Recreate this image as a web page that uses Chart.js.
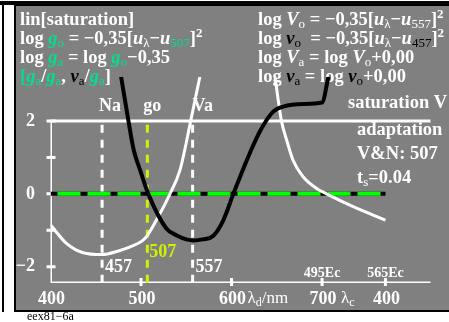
<!DOCTYPE html>
<html>
<head>
<meta charset="utf-8">
<script src="https://cdn.jsdelivr.net/npm/chart.js@4"></script>
<style>
  body { margin: 0; background: #fff; }
  canvas { display: block; }
</style>
</head>
<body>
<canvas id="c" width="449" height="322"></canvas>
<script>
// curves: wavelength (nm) and log value
const whiteLeftNm  = [400, 418, 436, 457, 475, 488, 502, 507, 517, 532, 543, 555, 565];
const whiteLeftVal = [-0.85, -1.37, -1.62, -1.67, -1.57, -1.46, -1.28, -1.14, -0.72, 0, 0.65, 2.02, 3.22];

const blackNm  = [478, 486, 492, 499, 508, 528, 540, 550, 558, 568, 580, 591, 602, 620, 632, 646, 657, 680, 700, 707];
const blackVal = [3.22, 2.02, 1.2, 0.65, 0, -0.95, -1.15, -1.25, -1.28, -1.25, -1.15, -0.72, 0, 1.11, 1.75, 2.26, 2.40, 2.47, 2.51, 3.22];

const whiteRightNm  = [648, 655, 661, 668, 679, 694, 705, 735, 770];
const whiteRightVal = [3.22, 2.02, 1.47, 0.92, 0.47, 0.15, 0, -0.36, -0.72];

// marks and axes
const markNm = [457, 507, 557];
const markTop = ['Na', 'go', 'Va'];
const xTicks = [400, 500, 600, 700, 770];
const xTickLabels = ['400', '500', '600', '700', '400'];
const yTicks = [-2, -1, 0, 1, 2];
const yTickLabels = ['\u22122', '', '0', '', '2'];
const ecNm = [700, 770];
const ecLabels = ['495Ec', '565Ec'];
const zeroLineEnd = 770;
const xMin = 400, xMax = 820, yMin = -2.45, yMax = 3.22, yTop = 2;

const W = '#ffffff', G = '#00e08c', K = '#000000', Y = '#d2f000', GRAY = '#808080';
const FONT = '"Liberation Serif", "Times New Roman", serif';

function pts(xs, ys) { return xs.map((x, i) => ({ x: x, y: ys[i] })); }

// draw a line of mixed text: [text, colour, kind]
function rich(ctx, x, y, parts, size) {
    parts.forEach(p => {
        const t = p[0], col = p[1], kind = p[2] || '';
        let font = 'bold ' + size + 'px ' + FONT, dy = 0;
        if (kind === 'i') font = 'italic bold ' + size + 'px ' + FONT;
        if (kind === 'sub') { font = Math.round(size * 0.72) + 'px ' + FONT; dy = size * 0.18; }
        if (kind === 'sup') { font = 'bold ' + Math.round(size * 0.72) + 'px ' + FONT; dy = -size * 0.4; }
        ctx.font = font;
        ctx.fillStyle = col;
        ctx.fillText(t, x, y + dy);
        x += ctx.measureText(t).width;
    });
}

const frame = {
    id: 'frame',
    beforeDraw(chart) {
        const ctx = chart.ctx;
        ctx.save();
        ctx.fillStyle = '#fff';
        ctx.fillRect(0, 0, 449, 322);
        ctx.fillStyle = K;
        ctx.fillRect(0, 1, 449, 4);
        ctx.fillRect(2, 1, 2, 311);
        ctx.fillRect(14, 1, 435, 311);
        ctx.fillStyle = GRAY;
        ctx.fillRect(16, 6, 433, 304);
        ctx.font = '12px ' + FONT;
        ctx.fillStyle = K;
        ctx.textBaseline = 'alphabetic';
        ctx.fillText('eex81\u22126a', 27, 320);
        ctx.restore();
    },
    beforeDatasetsDraw(chart) {
        const ctx = chart.ctx, x = chart.scales.x, y = chart.scales.y;
        ctx.save();
        ctx.textBaseline = 'alphabetic';
        ctx.textAlign = 'left';
        const s = 18.5;
        rich(ctx, 20, 25, [['lin[saturation]', W]], s);
        rich(ctx, 20, 44, [['log ', W], ['g', G, 'i'], ['o', G, 'sub'], [' = \u22120,35[', W], ['u', W, 'i'], ['\u03bb', W, 'sub'],
            ['\u2212', W], ['u', W, 'i'], ['507', G, 'sub'], [']', W], ['2', W, 'sup']], s);
        rich(ctx, 20, 63, [['log ', W], ['g', G, 'i'], ['a', G, 'sub'], [' = log ', W], ['g', G, 'i'], ['o', G, 'sub'], ['\u22120,35', W]], s);
        rich(ctx, 20, 82, [['[', G], ['g', G, 'i'], ['a', G, 'sub'], ['/', W], ['g', G, 'i'], ['a', G, 'sub'], [', ', W],
            ['\u03bd', K, 'i'], ['a', K, 'sub'], ['/', W], ['g', G, 'i'], ['a', G, 'sub'], [']', W]], s);

        rich(ctx, 258, 25, [['log ', W], ['V', W, 'i'], ['o', W, 'sub'], [' = \u22120,35[', W], ['u', W, 'i'], ['\u03bb', W, 'sub'],
            ['\u2212', W], ['u', W, 'i'], ['557', W, 'sub'], [']', W], ['2', W, 'sup']], s);
        rich(ctx, 258, 44, [['log ', W], ['\u03bd', K, 'i'], ['o', K, 'sub'], ['  = \u22120,35[', W], ['u', W, 'i'], ['\u03bb', W, 'sub'],
            ['\u2212', W], ['u', W, 'i'], ['457', K, 'sub'], [']', W], ['2', W, 'sup']], s);
        rich(ctx, 258, 63, [['log ', W], ['V', W, 'i'], ['a', W, 'sub'], [' = log ', W], ['V', W, 'i'], ['o', W, 'sub'], ['+0,00', W]], s);
        rich(ctx, 258, 82, [['log ', W], ['\u03bd', K, 'i'], ['a', K, 'sub'], [' = log ', W], ['\u03bd', K, 'i'], ['o', K, 'sub'], ['+0,00', W]], s);

        rich(ctx, 348, 108, [['saturation V', W]], 18.5);
        rich(ctx, 357, 135, [['adaptation', W]], 18.5);
        rich(ctx, 357, 159, [['V&N: 507', W]], 18.5);
        rich(ctx, 357, 183, [['t', W], ['s', W, 'sub'], ['=0.04', W]], 18.5);

        // labels above the marks
        const off = [-3, -4, 0];
        markNm.forEach((nm, i) => rich(ctx, x.getPixelForValue(nm) + off[i], 111, [[markTop[i], W]], 18));
        rich(ctx, x.getPixelForValue(457) + 3, 272, [['457', W]], 18);
        rich(ctx, x.getPixelForValue(557) + 3, 272, [['557', W]], 18);
        rich(ctx, x.getPixelForValue(507) + 2, 257, [['507', Y]], 18);

        // axis tick labels
        ctx.textAlign = 'center';
        ctx.font = 'bold 18px ' + FONT;
        ctx.fillStyle = W;
        xTicks.forEach((v, i) => ctx.fillText(xTickLabels[i], x.getPixelForValue(v) + 1, 304));
        ctx.font = 'bold 14px ' + FONT;
        ecNm.forEach((v, i) => ctx.fillText(ecLabels[i], x.getPixelForValue(v), 277));
        ctx.textAlign = 'right';
        ctx.textBaseline = 'middle';
        ctx.font = 'bold 18px ' + FONT;
        yTicks.forEach((v, i) => { if (yTickLabels[i]) ctx.fillText(yTickLabels[i], 35, y.getPixelForValue(v)); });
        ctx.textAlign = 'left';
        ctx.textBaseline = 'alphabetic';
        ctx.fillStyle = W;
        let lx = x.getPixelForValue(600) + 16;
        ctx.font = '17px ' + FONT; ctx.fillText('\u03bb', lx, 303); lx += ctx.measureText('\u03bb').width;
        ctx.font = '12px ' + FONT; ctx.fillText('d', lx, 306); lx += ctx.measureText('d').width;
        ctx.font = '17px ' + FONT; ctx.fillText('/nm', lx, 303);
        lx = x.getPixelForValue(700) + 19;
        ctx.font = '17px ' + FONT; ctx.fillText('\u03bb', lx, 303); lx += ctx.measureText('\u03bb').width;
        ctx.font = '12px ' + FONT; ctx.fillText('c', lx, 306);

        // tick marks
        ctx.strokeStyle = W;
        ctx.lineWidth = 3;
        ctx.beginPath();
        const x0 = x.getPixelForValue(xMin);
        yTicks.forEach(v => { const py = y.getPixelForValue(v); ctx.moveTo(x0 - 4, py); ctx.lineTo(x0 + 5, py); });
        const yb = y.getPixelForValue(yMin);
        xTicks.slice(1).forEach(v => { const px = x.getPixelForValue(v); ctx.moveTo(px, yb - 5); ctx.lineTo(px, yb + 3); });
        ctx.stroke();
        ctx.restore();
    }
};

function seg(data, color, width, dash, order, offset) {
    return {
        data: data, borderColor: color, borderWidth: width, borderDash: dash || [],
        borderDashOffset: offset || 0, pointRadius: 0, tension: 0, order: order, fill: false
    };
}

const datasets = [
    // axes and frame lines
    seg(pts([xMin, xMax], [yTop, yTop]), W, 3, null, 20),
    seg(pts([xMin, xMax], [yMin, yMin]), W, 3, null, 20),
    seg(pts([xMin, xMin], [yTop, yMin]), W, 3, null, 20),
    // dashed marks
    seg(pts([457, 457], [yTop - 0.1, yMin]), W, 3, [8, 7], 15),
    seg(pts([557, 557], [yTop - 0.1, yMin]), W, 3, [8, 7], 15),
    seg(pts([507, 507], [yTop - 0.1, yMin]), Y, 3, [8, 7], 15),
    // zero line: black under green dashes
    seg(pts([xMin, zeroLineEnd], [0, 0]), K, 4, null, 12),
    seg(pts([xMin, zeroLineEnd], [0, 0]), '#00ff00', 4, [23, 7], 11, 23),
    // curves
    Object.assign(seg(pts(whiteLeftNm, whiteLeftVal), W, 3, null, 2), { cubicInterpolationMode: 'monotone' }),
    Object.assign(seg(pts(whiteRightNm, whiteRightVal), W, 3, null, 2), { cubicInterpolationMode: 'monotone' }),
    Object.assign(seg(pts(blackNm, blackVal), K, 4, null, 1), { cubicInterpolationMode: 'monotone' })
];

new Chart(document.getElementById('c'), {
    type: 'line',
    data: { datasets: datasets },
    options: {
        responsive: false,
        animation: false,
        devicePixelRatio: 1,
        layout: { padding: { left: 50.5, right: 18.3, top: 76.7, bottom: 39 } },
        plugins: { legend: { display: false }, tooltip: { enabled: false } },
        scales: {
            x: { type: 'linear', min: xMin, max: xMax, display: false },
            y: { type: 'linear', min: yMin, max: yMax, display: false }
        }
    },
    plugins: [frame]
});
</script>
</body>
</html>
